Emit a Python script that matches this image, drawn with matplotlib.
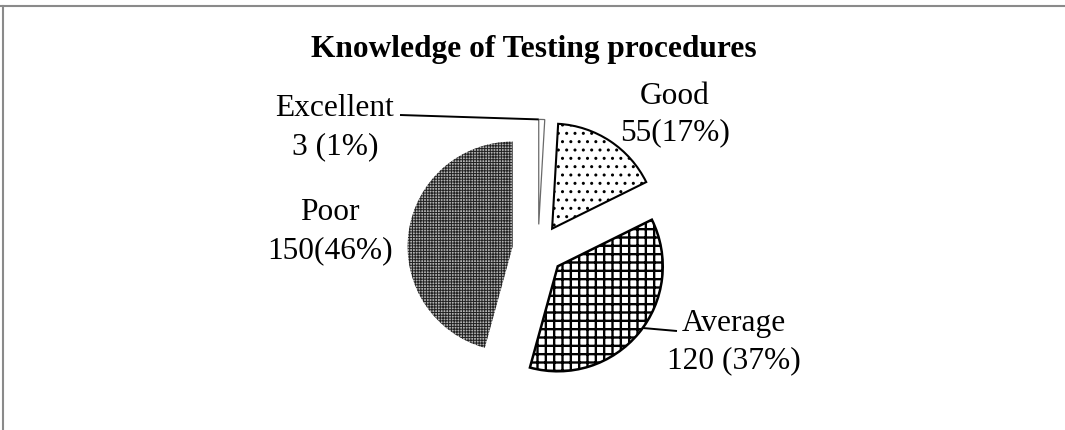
import numpy as np
import matplotlib
matplotlib.use('Agg')
import matplotlib.pyplot as plt
from matplotlib.lines import Line2D

# ---- data ----
categories = ['Excellent', 'Good', 'Average', 'Poor']
counts = [3, 55, 120, 150]
count_labels = ['3 (1%)', '55(17%)', '120 (37%)', '150(46%)']
title = 'Knowledge of Testing procedures'

W, H = 1065, 430
plt.rcParams['font.family'] = ['Liberation Serif', 'DejaVu Serif']
plt.rcParams['hatch.linewidth'] = 1.7

fig = plt.figure(figsize=(W / 100, H / 100), dpi=100)
ax = fig.add_axes([0, 0, 1, 1])

cx, cy = 538, H - 250
R = 105
explode = [25.6] * len(counts)
wedges, _ = ax.pie(counts, startangle=90, counterclock=False, center=(cx, cy),
                   radius=R, explode=explode, frame=False)
ax.set_xlim(0, W)
ax.set_ylim(0, H)
ax.set_aspect('equal')
ax.axis('off')

# styles
w_exc, w_good, w_avg, w_poor = wedges
w_exc.set(facecolor='white', edgecolor='#6a6a6a', linewidth=0.9)
w_good.set(facecolor='white', edgecolor='black', linewidth=1.5, hatch='..')
w_avg.set(facecolor='white', edgecolor='black', linewidth=1.8, hatch='++')
w_poor.set(facecolor='#b2b2b2', edgecolor='#222222', linewidth=0, hatch='++++++')
if hasattr(w_good, 'set_hatch_linewidth'):
    w_good.set_hatch_linewidth(1.0)
    w_poor.set_hatch_linewidth(0.7)

# title
fig.text(534 / W, 1 - 57 / H, title, ha='center', va='baseline',
         fontsize=22.6, fontweight='bold')

# labels (name line, count line)
label_pos = {
    'Excellent': (335, 116, 154),
    'Good': (675, 104, 140),
    'Average': (734, 331, 368),
    'Poor': (330, 220, 258),
}
for name, cl in zip(categories, count_labels):
    x, y1, y2 = label_pos[name]
    ax.text(x, H - y1, name, ha='center', va='baseline', fontsize=22.6)
    ax.text(x, H - y2, cl, ha='center', va='baseline', fontsize=22.6)

# leader lines
ex_c = w_exc.center
ex_tip = (ex_c[0] + R * np.cos(np.radians(w_exc.theta2)),
          ex_c[1] + R * np.sin(np.radians(w_exc.theta2)))
ax.plot([400, ex_tip[0]], [H - 115, ex_tip[1]], color='black', lw=1.4,
        solid_capstyle='butt')
av_c = w_avg.center
av_pt = (av_c[0] + R * np.cos(np.radians(-36)),
         av_c[1] + R * np.sin(np.radians(-36)))
ax.plot([av_pt[0], 677], [av_pt[1], H - 331], color='black', lw=1.4,
        solid_capstyle='butt')

# outer frame (top and left only)
fig.add_artist(Line2D([0, 1], [1 - 6 / H, 1 - 6 / H], transform=fig.transFigure,
                      color='#8a8a8a', lw=1.5))
fig.add_artist(Line2D([3 / W, 3 / W], [0, 1 - 6 / H], transform=fig.transFigure,
                      color='#8a8a8a', lw=1.5))

fig.savefig('out.png', dpi=100)
